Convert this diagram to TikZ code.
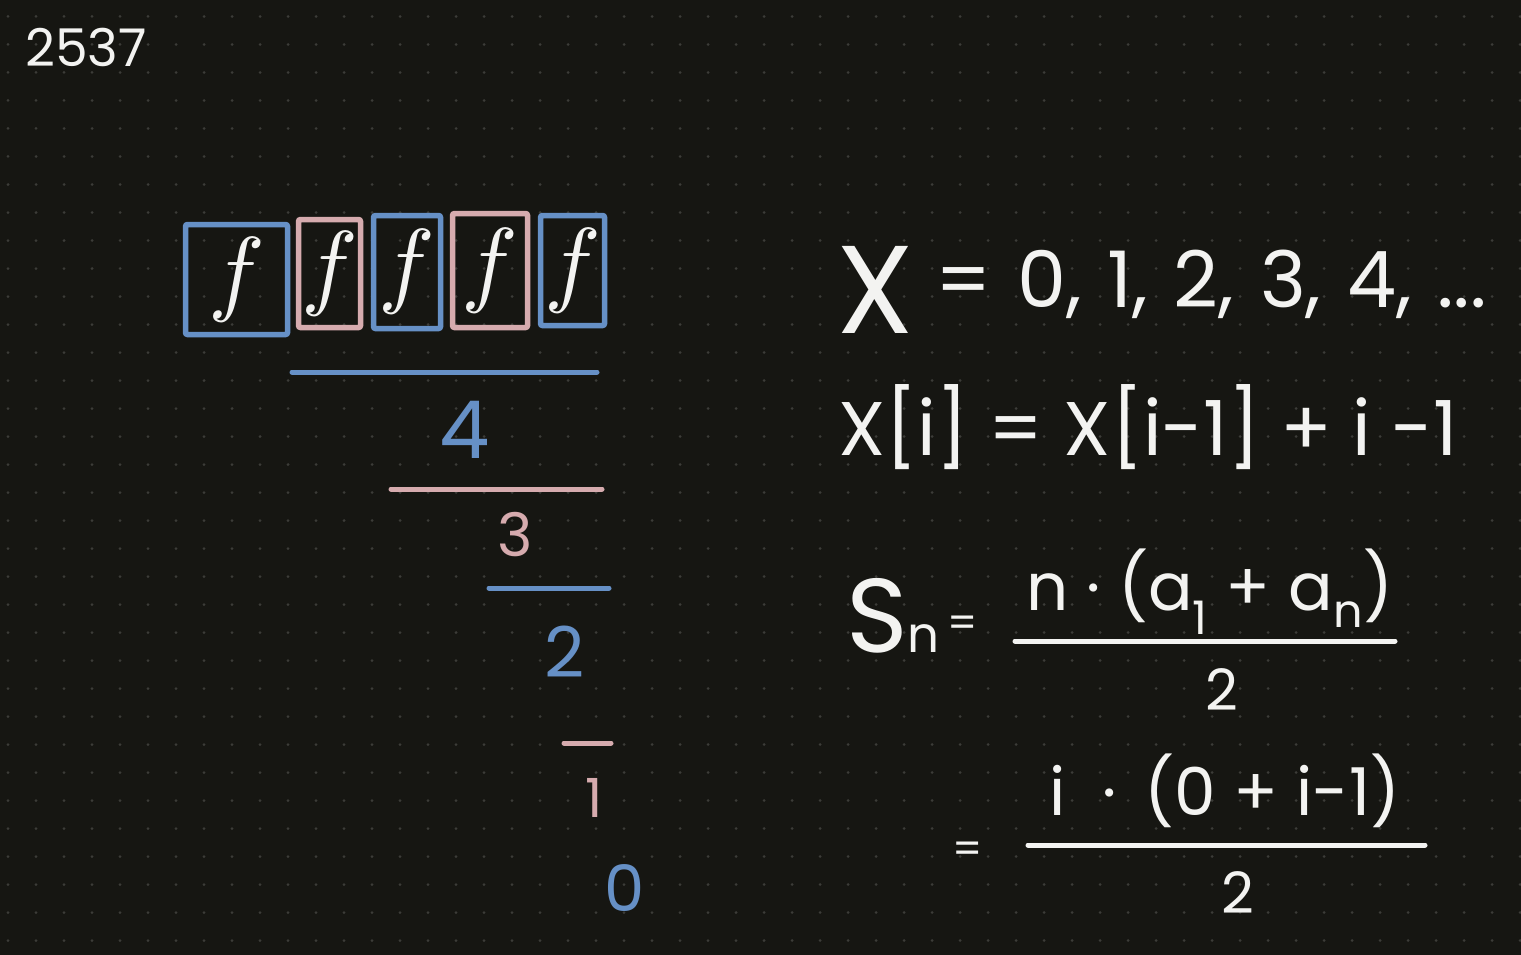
\documentclass[tikz,border=0pt]{standalone}
\usepackage{graphicx}
\usepackage{fontspec}
\setmainfont{Poppins}
\usepackage{tikz}
\usetikzlibrary{positioning}
\definecolor{boardbg}{HTML}{161612}
\definecolor{griddot}{HTML}{3C3C38}
\definecolor{chalk}{HTML}{F3F3F1}
\definecolor{penblue}{HTML}{6690C6}
\definecolor{penpink}{HTML}{D6ABAE}
\newcommand{\penfont}[1]{\fontsize{#1}{#1}\selectfont}
\newcommand{\bigf}{\scalebox{9.5}{$f$}}
\newcommand{\gap}{\hspace{5pt}}

\begin{document}
\begin{tikzpicture}[x=1pt, y=-1pt,
    ink/.style={text=chalk, inner sep=0pt},
    blueink/.style={ink, text=penblue},
    pinkink/.style={ink, text=penpink},
    bluebox/.style={draw=penblue, line width=5.5pt, rounded corners=2pt, inner sep=0pt, text=chalk},
    pinkbox/.style={bluebox, draw=penpink},
    bar/.style={line width=5pt, line cap=round}
]
    % board and dot grid
    \fill[boardbg] (0,0) rectangle (1521,955);
    \useasboundingbox (0,0) rectangle (1521,955);
    \foreach \i in {0,...,54}
        \foreach \j in {0,...,33}
            \fill[griddot] (8+28*\i, 16.5+28*\j) circle (1.5pt);

    \node[ink, anchor=base west, font=\penfont{52}] (pagenum) at (25,67) {2537};

    % the five boxes
    \node[bluebox, minimum width=102, minimum height=110] (box1) at (236.5,279.5) {\bigf};
    \node[pinkbox, minimum width=62, minimum height=108] (box2) at (329.5,273.5) {\bigf};
    \node[bluebox, minimum width=67, minimum height=113] (box3) at (407,272) {\bigf};
    \node[pinkbox, minimum width=75, minimum height=114] (box4) at (490,270.5) {\bigf};
    \node[bluebox, minimum width=64, minimum height=110] (box5) at (572.5,270.5) {\bigf};

    % counting down
    \draw[bar, penblue] (292,372) -- (597,372);
    \node[blueink, font=\penfont{80}] (cnt4) at (465,430) {4};
    \draw[bar, penpink] (391,489) -- (602,489);
    \node[pinkink, font=\penfont{60}] (cnt3) at (515,535) {3};
    \draw[bar, penblue] (489,588) -- (609,588);
    \node[blueink, font=\penfont{70}] (cnt2) at (565,652) {2};
    \draw[bar, penpink] (564,743) -- (611,743);
    \node[pinkink, font=\penfont{54}] (cnt1) at (594,798) {1};
    \node[blueink, font=\penfont{64}] (cnt0) at (625,888) {0};

    % sequence
    \node[ink, anchor=base west, font=\penfont{125}] (xsym) at (836,333) {X};
    \node[ink, anchor=base west, font=\penfont{78}] (xseq) at (935,307) {= \gap0, \gap1, \gap2, \gap3, \gap4, \gap...};
    \node[ink, anchor=base west, font=\penfont{76}] (xrec) at (838,455) {X[i] = X[i-1] + i -1};

    % arithmetic sum
    \node[ink, anchor=base west, font=\penfont{50}] (sum) at (846,652) {{\penfont{105}S}n};
    \node[ink, font=\penfont{42}] (eqone) at (963,627) {=};
    \node[ink, anchor=base, font=\penfont{66}] (num1) at (1210,610) {n · (a\textsubscript{1} + a\textsubscript{n})};
    \draw[bar, chalk] (1015,641) -- (1395,641);
    \node[ink, font=\penfont{57}] (den1) at (1222,690) {2};
    \node[ink, font=\penfont{42}] (eqtwo) at (968,853) {=};
    \node[ink, anchor=base, font=\penfont{66}] (num2) at (1225,815) {i \;· \,(0 + i-1)};
    \draw[bar, chalk] (1028,845) -- (1425,845);
    \node[ink, font=\penfont{57}] (den2) at (1238,893) {2};
\end{tikzpicture}
\end{document}
